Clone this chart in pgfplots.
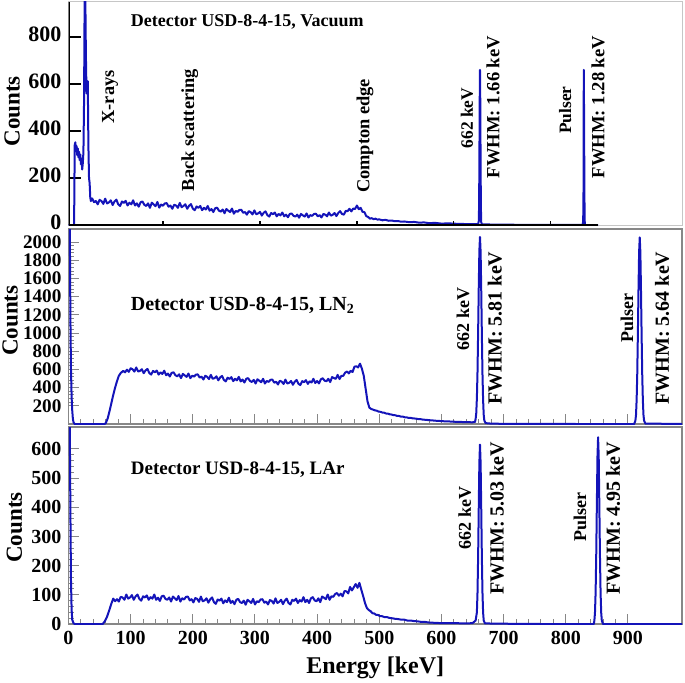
\documentclass[border=0pt]{standalone}
\usepackage{fontspec}
\setmainfont{Liberation Serif}
\usepackage{pgfplots}
\pgfplotsset{compat=1.18}
\definecolor{dblue}{RGB}{20,20,185}
\definecolor{framegray}{RGB}{135,135,135}
\pgfplotsset{
  spec/.style={
    scale only axis, width=306.75pt, xmin=0, xmax=987,
    axis line style={framegray, line width=0.6pt},
    tick style={framegray, line width=0.5pt},
    tick align=inside, tick pos=left,
    major tick length=5pt, minor tick length=2.5pt,
    minor tick num=4,
    ticklabel style={font=\bfseries\fontsize{10}{10}\selectfont},
    /pgf/number format/assume math mode=true,
    /pgf/number format/1000 sep={},
    ylabel={Counts},
    ylabel style={font=\bfseries\fontsize{11.5}{12}\selectfont, anchor=center},
  },
  dat/.style={dblue, line width=1.0pt, line join=round},
}
\begin{document}
\begin{tikzpicture}
% ---------------- Top: vacuum ----------------
\begin{axis}[spec, at={(34.25pt,228.5pt)}, anchor=south west, height=111.5pt,
  ymin=0, ymax=949, ytick={0,200,400,600,800}, minor tick num=0,
  xtick=\empty,
  axis line style={gray!45, line width=0.5pt},
  tick style={black, line width=0.8pt}, major tick length=6pt,
  ticklabel style={font=\bfseries\fontsize{11}{11}\selectfont},
  yticklabel style={yshift=1.2pt, inner ysep=0pt},
  ylabel style={at={(axis description cs:-0.092,0.51)}},
]
\addplot[dat] coordinates {
(0,0) (9,0) (10,340) (11,352) (12,318) (13,336) (14,298) (15,326) (16,288) (17,312) (18,276) (19,300) (20,258) (21,282) (22,236) (23,262) (24,310) (25,520) (26,980) (27,990) (28,720) (29,560) (30,605) (31,612) (32,340) (33,200) (34,178) (35,118) (36,102)
(38,113) (41,97) (44,102) (47,88) (50,107) (53,102) (56,90) (59,112) (62,92) (65,96) (68,105) (71,85) (74,100) (77,108) (80,88) (83,81) (86,100) (89,94) (92,103) (95,83) (98,95) (101,88) (104,105) (107,83) (110,92) (113,78) (116,97) (119,100) (122,86) (125,81) (128,92) (131,73) (134,95) (137,88) (140,80) (143,98) (146,74) (149,87) (152,82) (155,92) (158,93) (161,78) (164,83) (167,69) (170,86) (173,83) (176,73) (179,94) (182,76) (185,81) (188,88) (191,69) (194,82) (197,89) (200,70) (203,63) (206,79) (209,73) (212,81) (215,63) (218,73) (221,66) (224,81) (227,61) (230,68) (233,55) (236,71) (239,74) (242,61) (245,57) (248,66) (251,50) (254,68) (257,61) (260,55) (263,70) (266,48) (269,60) (272,56) (275,64) (278,65) (281,52) (284,55) (287,44) (290,59) (293,55) (296,45) (299,62) (302,46) (305,49) (308,56) (311,40) (314,52) (317,58) (320,42) (323,36) (326,51) (329,46) (332,53) (335,37) (338,47) (341,41) (344,53) (347,37) (350,44) (353,33) (356,47) (359,49) (362,39) (365,36) (368,44) (371,31) (374,47) (377,41) (380,36) (383,49) (386,32) (389,42) (392,39) (395,47) (398,48) (401,37) (404,42) (407,32) (410,47) (413,44) (416,37) (419,53) (422,40) (425,43) (428,51) (431,38) (434,51) (437,59) (440,47) (443,44) (446,60) (449,59) (452,69) (455,58) (458,70) (461,68) (464,83) (467,67) (470,73) (473,56) (476,55) (479,38) (482,34) (485,27) (488,29) (491,25) (494,27) (497,23) (500,24) (505,20) (510,22) (515,18) (520,19) (525,16) (530,17) (535,14) (540,15) (548,12) (556,13) (564,10) (572,11) (580,8) (590,9) (600,6) (612,7) (625,5) (640,4) (659,4)
(660,16) (660.5,73) (661,246) (661.5,519) (662,660) (662.5,515) (663,242) (663.5,69) (664,12) (665,3) (680,2) (720,1) (780,1) (827,0) (828,15) (828.5,122) (829,660) (829.5,432) (830,122) (830.5,15) (831,0) (852,0)
};
\draw[black, line width=1pt] (rel axis cs:0,0) -- (rel axis cs:0,1);
\draw[black, line width=1pt] (axis cs:0,0) -- (axis cs:852,0);
\pgfplotsinvokeforeach{152,308,464,620,775}{\draw[black, line width=0.6pt] (axis cs:#1,0) -- ++(0pt,2.2pt);}
\node[anchor=west, font=\bfseries\fontsize{9}{9}\selectfont] at (axis cs:89,864) {Detector USD-8-4-15, Vacuum};
\node[rotate=90, font=\bfseries\fontsize{9.2}{9.2}\selectfont] at (axis cs:67,545) {X-rays};
\node[rotate=90, font=\bfseries\fontsize{9.2}{9.2}\selectfont] at (axis cs:195,404) {Back scattering};
\node[rotate=90, font=\bfseries\fontsize{9.2}{9.2}\selectfont] at (axis cs:477,379) {Compton edge};
\node[rotate=90, font=\bfseries\fontsize{8.7}{8.7}\selectfont] at (axis cs:641,455) {662 keV};
\node[rotate=90, font=\bfseries\fontsize{9.3}{9.3}\selectfont] at (axis cs:683,502) {FWHM: 1.66 keV};
\node[rotate=90, font=\bfseries\fontsize{8.7}{8.7}\selectfont] at (axis cs:799,489) {Pulser};
\node[rotate=90, font=\bfseries\fontsize{9.3}{9.3}\selectfont] at (axis cs:852,502) {FWHM: 1.28 keV};
\end{axis}
% ---------------- Middle: LN2 ----------------
\begin{axis}[spec, at={(34.25pt,129pt)}, anchor=south west, height=97.5pt,
  ymin=0, ymax=2143, ytick={200,400,...,2000},
  xtick={0,100,...,900}, xticklabels={},
  ticklabel style={font=\bfseries\fontsize{9.6}{9.6}\selectfont},
  yticklabel style={inner ysep=0pt},
  ylabel style={at={(axis description cs:-0.095,0.53)}},
]
\addplot[dat] coordinates {
(0,2300) (2,2300) (3,1200) (4,600) (5,300) (6,150) (7,60) (8,20) (10,0) (58,0) (60,10) (63,60) (66,140) (69,230) (72,320) (75,400) (78,470) (81,530) (84,560)
(88,584) (91,568) (94,597) (97,573) (100,613) (103,602) (106,576) (109,621) (112,577) (115,584) (118,602) (121,558) (124,589) (127,605) (130,560) (133,543) (136,583) (139,569) (142,587) (145,543) (148,567) (151,550) (154,586) (157,536) (160,554) (163,522) (166,562) (169,568) (172,536) (175,524) (178,546) (181,504) (184,551) (187,534) (190,518) (193,555) (196,503) (199,531) (202,521) (205,543) (208,545) (211,510) (214,521) (217,489) (220,530) (223,519) (226,494) (229,540) (232,497) (235,504) (238,524) (241,480) (244,512) (247,528) (250,485) (253,468) (256,509) (259,495) (262,515) (265,471) (268,497) (271,480) (274,518) (277,468) (280,488) (283,456) (286,497) (289,504) (292,473) (295,462) (298,485) (301,445) (304,492) (307,475) (310,459) (313,497) (316,445) (319,473) (322,463) (325,486) (328,488) (331,454) (334,465) (337,434) (340,475) (343,465) (346,440) (349,488) (352,445) (355,453) (358,473) (361,431) (364,465) (367,484) (370,442) (373,428) (376,471) (379,460) (382,482) (385,441) (388,470) (391,456) (394,497) (397,450) (400,473) (403,446) (406,491) (409,503) (412,476) (415,470) (418,497) (421,461) (424,515) (427,505) (430,496) (433,540) (436,494) (439,529) (442,529) (445,564) (448,577) (451,556) (454,585) (457,571) (460,630) (463,634) (466,622) (469,663) (472,608) (475,530) (478,390) (481,250) (484,180) (487,165)
(490,158) (493,150) (496,146) (499,136) (502,134) (505,126) (508,124) (511,115) (514,114) (517,106) (520,104) (523,97) (526,96) (529,88) (532,88) (535,80) (538,81) (541,74) (544,74) (547,67) (550,68) (554,62) (558,60) (562,55) (566,54) (570,48) (575,46) (580,42) (585,40) (590,36) (595,35) (600,31) (610,29) (620,25) (630,23) (640,20) (650,19) (654,24)
(655,57) (656,120) (657,285) (658,570) (659,1005) (660,1495) (661,1905) (662,2055) (663,1890) (664,1475) (665,985) (666,550) (667,265) (668,100) (669,37) (671,10) (680,4) (700,2) (760,1) (820,0) (910,0) (912,37) (913,100) (914,265) (915,550) (916,985) (917,1475) (918,1890) (919,2050) (920,1890) (921,1475) (922,985) (923,550) (924,265) (925,100) (926,37) (928,5) (987,0)
};
\node[anchor=west, font=\bfseries\fontsize{10}{10}\selectfont] at (axis cs:89,1308) {Detector USD-8-4-15, LN$_\mathbf{2}$};
\node[rotate=90, font=\bfseries\fontsize{9}{9}\selectfont] at (axis cs:634.5,1154) {662 keV};
\node[rotate=90, font=\bfseries\fontsize{10}{10}\selectfont] at (axis cs:686,1055) {FWHM: 5.81 keV};
\node[rotate=90, font=\bfseries\fontsize{9}{9}\selectfont] at (axis cs:898.5,1165) {Pulser};
\node[rotate=90, font=\bfseries\fontsize{10}{10}\selectfont] at (axis cs:955,1055) {FWHM: 5.64 keV};
\end{axis}
% ---------------- Bottom: LAr ----------------
\begin{axis}[spec, at={(34.25pt,29pt)}, anchor=south west, height=98.5pt,
  ymin=0, ymax=675, ytick={0,100,...,600},
  xtick={0,100,...,900},
  xlabel={Energy [keV]},
  xlabel style={font=\bfseries\fontsize{12}{12}\selectfont, at={(axis description cs:0.5,-0.223)}, anchor=center},
  ylabel style={at={(axis description cs:-0.088,0.49)}},
]
\addplot[dat] coordinates {
(0,700) (2,700) (3,400) (4,150) (5,50) (6,15) (8,3) (10,0) (55,0) (58,8) (62,25) (66,50) (69,70)
(72,87) (75,78) (78,85) (81,77) (84,93) (87,91) (90,83) (93,101) (96,87) (99,91) (102,99) (105,83) (108,95) (111,101) (114,86) (117,80) (120,95) (123,91) (126,98) (129,83) (132,92) (135,87) (138,101) (141,83) (144,90) (147,79) (150,95) (153,97) (156,86) (159,83) (162,91) (165,77) (168,94) (171,88) (174,82) (177,96) (180,77) (183,88) (186,84) (189,93) (192,94) (195,81) (198,85) (201,74) (204,89) (207,86) (210,76) (213,94) (216,78) (219,81) (222,88) (225,73) (228,85) (231,91) (234,75) (237,69) (240,84) (243,80) (246,87) (249,71) (252,81) (255,75) (258,90) (261,72) (264,79) (267,68) (270,83) (273,86) (276,75) (279,72) (282,80) (285,66) (288,83) (291,78) (294,72) (297,86) (300,67) (303,78) (306,75) (309,84) (312,85) (315,73) (318,77) (321,67) (324,82) (327,79) (330,70) (333,88) (336,72) (339,76) (342,83) (345,68) (348,80) (351,87) (354,72) (357,67) (360,83) (363,79) (366,87) (369,72) (372,82) (375,77) (378,92) (381,75) (384,83) (387,72) (390,88) (393,92) (396,81) (399,78) (402,88) (405,75) (408,94) (411,90) (414,85) (417,101) (420,83) (423,95) (426,93) (429,103) (432,106) (435,97) (438,104) (441,95) (444,113) (447,112) (450,105) (453,127) (456,115) (459,126) (462,137) (465,124) (468,141) (471,118) (474,96) (477,72) (480,55)
(483,48) (486,44) (489,37) (492,36) (495,31) (498,31) (501,27) (504,27) (508,24) (512,24) (516,21) (520,20) (525,18) (530,17) (535,15) (540,15) (545,12) (550,12) (556,10) (562,9) (568,7) (574,7) (580,5) (590,4) (600,3) (620,3) (640,2) (650,3)
(655,12) (657,40) (658,107) (659,230) (660,397) (661,552) (662,615) (663,552) (664,397) (665,230) (666,107) (667,40) (668,12) (670,2) (700,1) (760,0) (845,0) (846,11) (847,39) (848,107) (849,234) (850,409) (851,573) (852,640) (853,573) (854,409) (855,234) (856,107) (857,39) (858,11) (860,0) (987,0)
};
\node[anchor=west, font=\bfseries\fontsize{9.5}{9.5}\selectfont] at (axis cs:89,528) {Detector USD-8-4-15, LAr};
\node[rotate=90, font=\bfseries\fontsize{9}{9}\selectfont] at (axis cs:637.7,363) {662 keV};
\node[rotate=90, font=\bfseries\fontsize{10}{10}\selectfont] at (axis cs:689,363) {FWHM: 5.03 keV};
\node[rotate=90, font=\bfseries\fontsize{9}{9}\selectfont] at (axis cs:823,367) {Pulser};
\node[rotate=90, font=\bfseries\fontsize{10}{10}\selectfont] at (axis cs:876,363) {FWHM: 4.95 keV};
\end{axis}
\pgfresetboundingbox
\path (0,0) rectangle (342.5pt,341pt);
\end{tikzpicture}
\end{document}
